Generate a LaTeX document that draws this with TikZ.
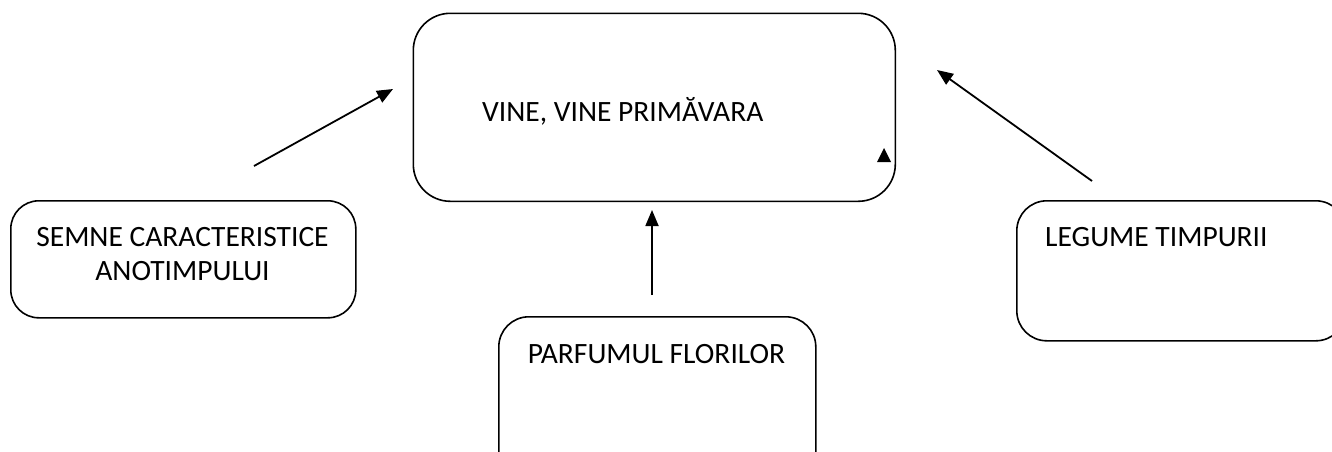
\documentclass[tikz,border=0pt]{standalone}
\usepackage{fontspec}
\setmainfont{Carlito}
\usetikzlibrary{arrows.meta}
\begin{document}
\begin{tikzpicture}[x=1pt,y=-1pt,
  box/.style={draw=black, line width=1.6pt, rounded corners=#1, inner sep=0pt},
  box/.default=30pt,
  lbl/.style={font=\fontsize{29.5}{35}\selectfont, inner sep=0pt},
  conn/.style={line width=1.8pt, -{Triangle[length=16pt,width=13pt]}}]
\useasboundingbox (0,0) rectangle (1332,451);
\clip (0,0) rectangle (1332,451);
% boxes
\node[box=37pt, minimum width=482pt, minimum height=188pt, anchor=north west] (main) at (412.5,12.5) {};
\node[box=28pt, minimum width=345pt, minimum height=117pt, anchor=north west] (semne) at (10,200) {};
\node[box=30pt, minimum width=317pt, minimum height=180pt, anchor=north west] (parf) at (498,316) {};
\node[box=30pt, minimum width=329pt, minimum height=140pt, anchor=north west] (leg) at (1016,200) {};
% texts
\node[lbl, anchor=base west] (maint) at (482,121) {VINE, VINE PRIMĂVARA};
\node[lbl, anchor=base] (semnet1) at (182.5,246) {SEMNE CARACTERISTICE};
\node[lbl, anchor=base] (semnet2) at (182.5,280) {ANOTIMPULUI};
\node[lbl, anchor=base] (parft) at (656.5,363) {PARFUMUL FLORILOR};
\node[lbl, anchor=base west] (legt) at (1045,246) {LEGUME TIMPURII};
% connectors
\coordinate (a1s) at (254,166);
\coordinate (a1e) at (393,89);
\coordinate (a2s) at (652,295);
\coordinate (a2e) at (652,210);
\coordinate (a3s) at (1092,181);
\coordinate (a3e) at (937,70);
\draw[conn] (a1s) -- (a1e);
\draw[conn] (a2s) -- (a2e);
\draw[conn] (a3s) -- (a3e);
% small stray arrowhead
\fill (884,148) -- (891,162) -- (877,162) -- cycle;
\end{tikzpicture}
\end{document}
